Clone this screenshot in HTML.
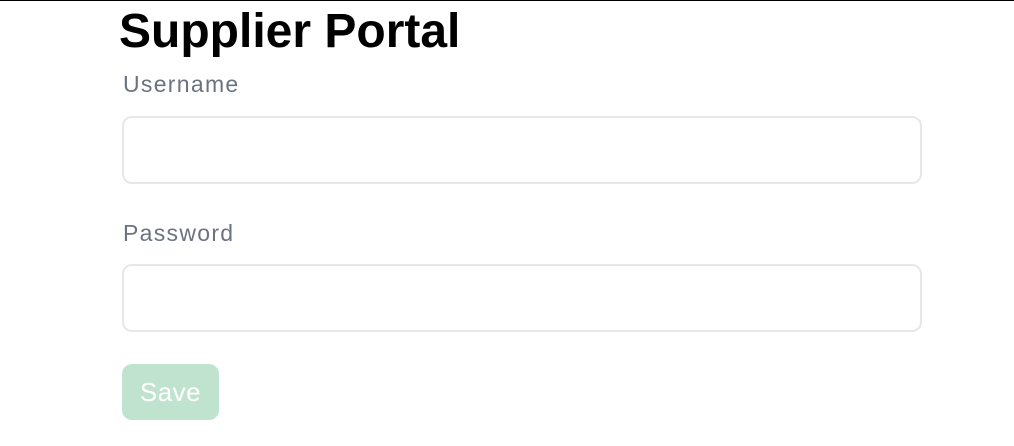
<!DOCTYPE html>
<html><head><meta charset="utf-8"><style>
html,body{margin:0;padding:0;width:1014px;height:446px;overflow:hidden;background:#fff;font-family:"Liberation Sans",sans-serif;}
.topline{position:absolute;left:0;top:0;width:1014px;height:1px;background:#000;}
h1{position:absolute;left:119px;top:4px;margin:0;font-size:48px;font-weight:bold;color:#000;line-height:56px;letter-spacing:0px;}
.lbl{position:absolute;left:123px;font-size:23px;color:#6b7280;line-height:26px;letter-spacing:1.3px;}
.inp{position:absolute;left:122px;width:796px;height:64px;border:2px solid #e5e7eb;border-radius:10px;background:#fff;box-sizing:content-box;}
.btn{position:absolute;left:122px;top:364px;width:97px;height:56px;background:#c0e3d0;border-radius:10px;color:#fff;font-size:26px;line-height:56px;text-align:center;letter-spacing:0.5px;}
</style></head><body>
<div class="topline"></div>
<h1>Supplier Portal</h1>
<div class="lbl" style="top:71px">Username</div>
<div class="inp" style="top:116px"></div>
<div class="lbl" style="top:220px">Password</div>
<div class="inp" style="top:264px"></div>
<div class="btn">Save</div>
</body></html>
